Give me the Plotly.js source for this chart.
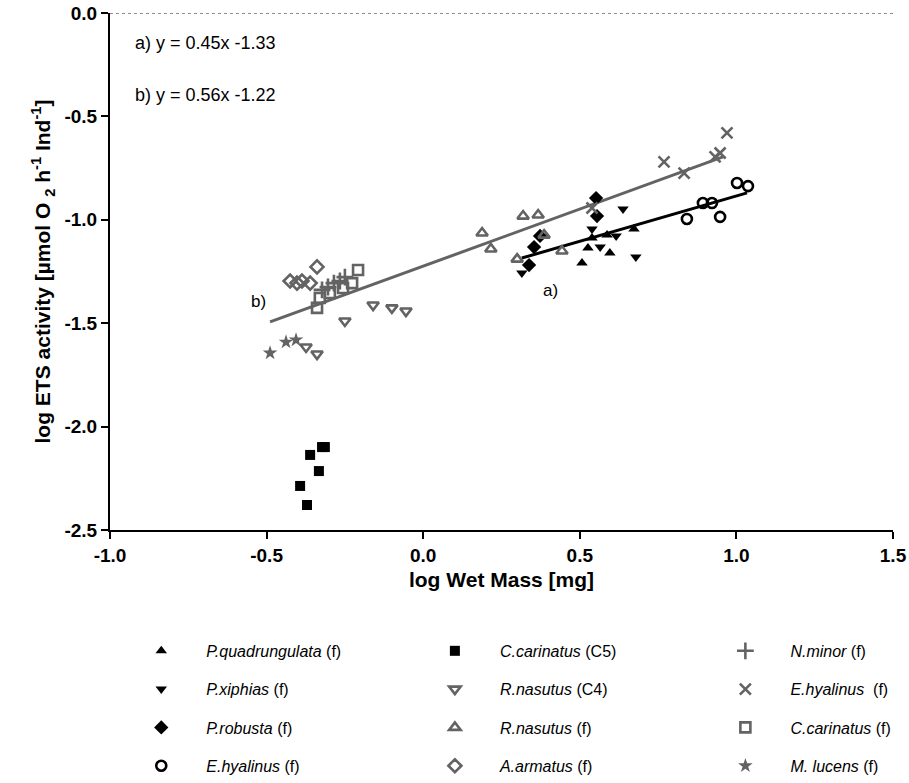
<!DOCTYPE html>
<html>
<head>
<meta charset="utf-8">
<script src="https://cdn.plot.ly/plotly-3.0.1.min.js"></script>
<style>html,body{margin:0;padding:0;background:#fff;}#chart{width:909px;height:783px;}</style>
</head>
<body>
<div id="chart"></div>
<script>
// ---- data (log wet mass [mg], log ETS activity) ----
const pQuad_x = [0.507, 0.526, 0.539, 0.587, 0.596, 0.673];
const pQuad_y = [-1.209, -1.136, -1.088, -1.074, -1.161, -1.044];

const pXiph_x = [0.315, 0.539, 0.565, 0.616, 0.638, 0.679];
const pXiph_y = [-1.257, -1.044, -1.132, -1.078, -0.948, -1.180];

const pRob_x = [0.338, 0.354, 0.373, 0.552, 0.555];
const pRob_y = [-1.219, -1.132, -1.078, -0.895, -0.982];

const eHyalO_x = [0.842, 0.893, 0.922, 0.948, 1.002, 1.037];
const eHyalO_y = [-0.996, -0.919, -0.919, -0.986, -0.822, -0.837];

const cCarC5_x = [-0.393, -0.371, -0.361, -0.333, -0.323, -0.314];
const cCarC5_y = [-2.287, -2.379, -2.137, -2.215, -2.099, -2.099];

const rNasC4_x = [-0.374, -0.339, -0.250, -0.160, -0.100, -0.055];
const rNasC4_y = [-1.615, -1.649, -1.489, -1.412, -1.426, -1.441];

const rNasF_x = [0.188, 0.216, 0.300, 0.319, 0.367, 0.386, 0.443];
const rNasF_y = [-1.064, -1.141, -1.190, -0.982, -0.977, -1.074, -1.151];

const aArm_x = [-0.425, -0.403, -0.387, -0.361, -0.339];
const aArm_y = [-1.296, -1.306, -1.296, -1.306, -1.228];

const nMin_x = [-0.323, -0.304, -0.285, -0.266, -0.250];
const nMin_y = [-1.339, -1.325, -1.306, -1.296, -1.277];

const eHyalX_x = [0.539, 0.769, 0.833, 0.932, 0.948, 0.970];
const eHyalX_y = [-0.943, -0.720, -0.774, -0.696, -0.677, -0.580];

const cCarF_x = [-0.339, -0.330, -0.298, -0.256, -0.227, -0.208];
const cCarF_y = [-1.426, -1.378, -1.354, -1.330, -1.306, -1.243];

const mLuc_x = [-0.489, -0.438, -0.406];
const mLuc_y = [-1.644, -1.591, -1.581];

// regression lines (end points as read)
const fitA_x = [0.315, 1.034];
const fitA_y = [-1.185, -0.870];
const fitB_x = [-0.489, 0.957];
const fitB_y = [-1.494, -0.696];

// tick labels
const xTickVals = [-1.0, -0.5, 0.0, 0.5, 1.0, 1.5];
const xTickText = ['-1.0', '-0.5', '0.0', '0.5', '1.0', '1.5'];
const yTickVals = [0.0, -0.5, -1.0, -1.5, -2.0, -2.5];
const yTickText = ['0.0', '-0.5', '-1.0', '-1.5', '-2.0', '-2.5'];

const BLACK = '#000000';
const GRAY = '#636363';
const FONT = 'Liberation Sans, Arial, sans-serif';

function sc(x, y, name, symbol, color, size, open, legend, group) {
  const m = {symbol: symbol, size: size, color: color};
  if (open) m.line = {color: color, width: 2.6};
  else m.line = {width: 0};
  return {x: x, y: y, type: 'scatter', mode: 'markers', name: name, marker: m,
          legend: legend, legendgroup: group, showlegend: true, hoverinfo: 'x+y'};
}

const traces = [
  {x: fitB_x, y: fitB_y, type: 'scatter', mode: 'lines', line: {color: GRAY, width: 3}, showlegend: false, hoverinfo: 'skip'},
  {x: fitA_x, y: fitA_y, type: 'scatter', mode: 'lines', line: {color: BLACK, width: 3}, showlegend: false, hoverinfo: 'skip'},
  sc(pQuad_x, pQuad_y, '<i>P.quadrungulata</i> (f)', 'triangle-up', BLACK, 10, false, 'legend', 'g1'),
  sc(pXiph_x, pXiph_y, '<i>P.xiphias</i> (f)', 'triangle-down', BLACK, 10, false, 'legend', 'g2'),
  sc(pRob_x, pRob_y, '<i>P.robusta</i> (f)', 'diamond', BLACK, 11, false, 'legend', 'g3'),
  sc(eHyalO_x, eHyalO_y, '<i>E.hyalinus</i> (f)', 'circle-open', BLACK, 10, true, 'legend', 'g4'),
  sc(cCarC5_x, cCarC5_y, '<i>C.carinatus</i> (C5)', 'square', BLACK, 10, false, 'legend2', 'g5'),
  sc(rNasC4_x, rNasC4_y, '<i>R.nasutus</i> (C4)', 'triangle-down-open', GRAY, 10, true, 'legend2', 'g6'),
  sc(rNasF_x, rNasF_y, '<i>R.nasutus</i> (f)', 'triangle-up-open', GRAY, 10, true, 'legend2', 'g7'),
  sc(aArm_x, aArm_y, '<i>A.armatus</i> (f)', 'diamond-open', GRAY, 10, true, 'legend2', 'g8'),
  sc(nMin_x, nMin_y, '<i>N.minor</i> (f)', 'cross-thin-open', GRAY, 12, true, 'legend3', 'g9'),
  sc(eHyalX_x, eHyalX_y, '<i>E.hyalinus</i>  (f)', 'x-thin-open', GRAY, 11, true, 'legend3', 'g10'),
  sc(cCarF_x, cCarF_y, '<i>C.carinatus</i> (f)', 'square-open', GRAY, 10, true, 'legend3', 'g11'),
  sc(mLuc_x, mLuc_y, '<i>M. lucens</i> (f)', 'star', GRAY, 11, false, 'legend3', 'g12')
];

function leg(x) {
  return {x: x, xanchor: 'left', y: -0.201, yanchor: 'top', orientation: 'v',
          font: {family: FONT, size: 16, color: '#000'},
          bgcolor: 'rgba(0,0,0,0)', borderwidth: 0, tracegroupgap: 14.5, itemwidth: 80,
          traceorder: 'grouped', itemclick: false};
}

const layout = {
  width: 909, height: 783,
  margin: {l: 110, r: 16, t: 13, b: 253, autoexpand: false},
  paper_bgcolor: '#fff', plot_bgcolor: '#fff',
  font: {family: FONT, color: '#000'},
  showlegend: true,
  legend: leg(0.008),
  legend2: leg(0.383),
  legend3: leg(0.754),
  xaxis: {
    range: [-1.0, 1.5], showgrid: false, zeroline: false,
    showline: true, linecolor: '#000', linewidth: 2, mirror: false,
    ticks: 'outside', ticklen: 7, tickwidth: 2, tickcolor: '#000',
    tickmode: 'array', tickvals: xTickVals, ticktext: xTickText,
    tickfont: {size: 19, family: FONT, color: '#000', weight: 700},
    title: {text: '<b>log Wet Mass [mg]</b>', font: {size: 21, family: FONT, color: '#000'}, standoff: 8}
  },
  yaxis: {
    range: [-2.5, 0.0], showgrid: false, zeroline: false,
    showline: true, linecolor: '#000', linewidth: 2,
    ticks: 'outside', ticklen: 7, tickwidth: 2, tickcolor: '#000',
    tickmode: 'array', tickvals: yTickVals, ticktext: yTickText,
    tickfont: {size: 19, family: FONT, color: '#000', weight: 700},
    title: {text: '<b>log ETS activity [µmol O <sub>2</sub> h<sup>-1</sup> Ind<sup>-1</sup>]</b>', font: {size: 21, family: FONT, color: '#000'}, standoff: 8}
  },
  shapes: [
    {type: 'line', xref: 'paper', yref: 'y', x0: 0, x1: 1, y0: 0, y1: 0,
     line: {color: '#222', width: 1.2, dash: 'dot'}}
  ],
  annotations: [
    {xref: 'paper', yref: 'paper', x: 0.029, y: 0.942, xanchor: 'left', yanchor: 'middle', showarrow: false,
     text: 'a) y = 0.45x -1.33', font: {size: 18, color: '#000'}},
    {xref: 'paper', yref: 'paper', x: 0.029, y: 0.841, xanchor: 'left', yanchor: 'middle', showarrow: false,
     text: 'b) y = 0.56x -1.22', font: {size: 18, color: '#000'}},
    {xref: 'x', yref: 'y', x: -0.527, y: -1.397, showarrow: false, text: 'b)', font: {size: 17, color: '#000'}},
    {xref: 'x', yref: 'y', x: 0.408, y: -1.34, showarrow: false, text: 'a)', font: {size: 17, color: '#000'}}
  ]
};

Plotly.newPlot('chart', traces, layout, {displayModeBar: false, staticPlot: true});
</script>
</body>
</html>
